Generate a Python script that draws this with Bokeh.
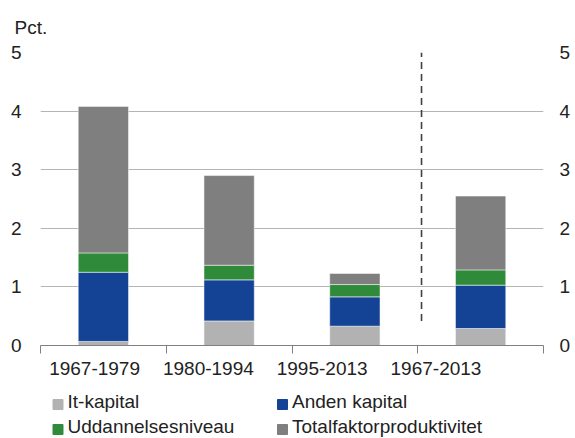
from bokeh.plotting import figure
from bokeh.layouts import column
from bokeh.models import Range1d, LinearAxis, FixedTicker, ColumnDataSource
from bokeh.core.properties import value
from bokeh.embed import file_html
from bokeh.resources import INLINE

# ---- data ----
periods = ["1967-1979", "1980-1994", "1995-2013", "1967-2013"]
it_kapital = [0.07, 0.42, 0.33, 0.29]
anden_kapital = [1.18, 0.70, 0.50, 0.74]
uddannelse = [0.33, 0.25, 0.21, 0.26]
tfp = [2.50, 1.53, 0.19, 1.26]
series_names = ["It-kapital", "Anden kapital", "Uddannelsesniveau", "Totalfaktorproduktivitet"]
y_ticks = [0, 1, 2, 3, 4, 5]

colors = ["#b2b2b2", "#144395", "#2f8b3a", "#7f7f7f"]
FONT = "Liberation Sans"
TXT = "#222222"

n = len(periods)
centers = [i + 0.5 for i in range(n)]
boundaries = list(range(n + 1))
# label positions (labels in the original sit slightly left of the bars)
label_pos = [0.43, 1.335, 2.24, 3.145]
divider_x = 3.03
divider_bottom = 0.42

W = 575
MAIN_H = 387
LEG_H = 438 - MAIN_H
BL, BR = 40, 32

src = ColumnDataSource(dict(x=centers, it=it_kapital, anden=anden_kapital, udd=uddannelse, tfp=tfp))

p = figure(width=W, height=MAIN_H, x_range=Range1d(0, n), y_range=Range1d(0, 5),
           output_backend="svg", toolbar_location=None,
           min_border_left=BL, min_border_right=BR, min_border_top=52, min_border_bottom=42,
           title="Pct.")
p.outline_line_color = None
p.background_fill_color = "white"
p.border_fill_color = "white"

p.title.text_font = FONT
p.title.text_font_size = "19px"
p.title.text_font_style = "normal"
p.title.text_color = TXT
p.title.align = "left"
p.title.offset = -26
p.title.standoff = 29

# grid
p.xgrid.visible = False
p.ygrid.ticker = FixedTicker(ticks=y_ticks)
p.ygrid.grid_line_color = "#b4b4b4"
p.ygrid.grid_line_width = 1

renderers = p.vbar_stack(["it", "anden", "udd", "tfp"], x="x", width=0.4, source=src,
                         color=colors, line_color="white", line_width=0.5)

p.segment(x0=[divider_x], y0=[divider_bottom], x1=[divider_x], y1=[5],
          line_color="#404040", line_width=1.6, line_dash="7 5")

# bottom tick axis (category boundaries)
xa = p.xaxis[0]
xa.ticker = FixedTicker(ticks=boundaries)
xa.major_label_overrides = {b: "" for b in boundaries}
xa.major_label_text_font_size = "1px"
xa.major_label_standoff = 0
xa.major_tick_in = 0
xa.major_tick_out = 8
xa.minor_tick_line_color = None
xa.axis_line_color = "#808080"
xa.major_tick_line_color = "#808080"

# label axis
la = LinearAxis(ticker=FixedTicker(ticks=label_pos),
                major_label_overrides={pos: lab for pos, lab in zip(label_pos, periods)})
la.axis_line_color = None
la.major_tick_line_color = None
la.minor_tick_line_color = None
la.major_tick_out = 0
la.major_tick_in = 0
la.major_label_standoff = 8
la.major_label_text_font = FONT
la.major_label_text_font_size = "19px"
la.major_label_text_color = TXT
p.add_layout(la, "below")

# y axes
ya = p.yaxis[0]
ya.ticker = FixedTicker(ticks=y_ticks)
ya.axis_line_color = None
ya.major_tick_line_color = None
ya.minor_tick_line_color = None
ya.major_tick_out = 0
ya.major_tick_in = 0
ya.major_label_standoff = 19
ya.major_label_text_font = FONT
ya.major_label_text_font_size = "19px"
ya.major_label_text_color = TXT

ra = LinearAxis(ticker=FixedTicker(ticks=y_ticks))
ra.axis_line_color = None
ra.major_tick_line_color = None
ra.minor_tick_line_color = None
ra.major_tick_out = 0
ra.major_tick_in = 0
ra.major_label_standoff = 16
ra.major_label_text_font = FONT
ra.major_label_text_font_size = "19px"
ra.major_label_text_color = TXT
p.add_layout(ra, "right")

# ---- legend (separate strip below the chart, 2 x 2 grid) ----
leg = figure(width=W, height=LEG_H, x_range=Range1d(BL, W - BR), y_range=Range1d(0, LEG_H),
             output_backend="svg", toolbar_location=None,
             min_border_left=BL, min_border_right=BR, min_border_top=0, min_border_bottom=0,
             x_axis_location=None, y_axis_location=None)
leg.outline_line_color = None
leg.xgrid.visible = False
leg.ygrid.visible = False
col_x = [57.5, 282]
row_sq = [LEG_H - (404 - MAIN_H), LEG_H - (429 - MAIN_H)]
row_txt = [LEG_H - (401 - MAIN_H), LEG_H - (426 - MAIN_H)]
sx = [col_x[i % 2] for i in range(4)]
sy = [row_sq[i // 2] for i in range(4)]
ty = [row_txt[i // 2] for i in range(4)]
leg_src = ColumnDataSource(dict(x=sx, y=sy, tx=[v + 9.5 for v in sx], ty=ty,
                                name=series_names, color=colors))
leg.scatter(x="x", y="y", marker="square", size=10, color="color", source=leg_src)
leg.text(x="tx", y="ty", text="name", source=leg_src, text_baseline="middle",
         text_font=value(FONT), text_font_size="19px", text_color=TXT)

layout = column(p, leg, spacing=0)
open("out.html", "w").write(file_html(layout, INLINE))
